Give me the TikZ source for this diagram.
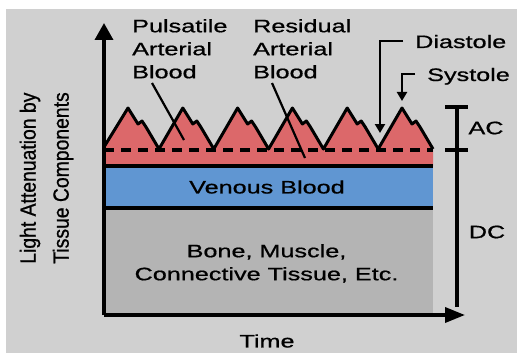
\documentclass[tikz,border=0pt]{standalone}
\usepackage{fontspec}
\setmainfont{Liberation Sans}
\newfontfamily\widesf[FakeStretch=1.4, FakeBold=0.8]{Liberation Sans}
\newfontfamily\narrowsf[FakeStretch=0.88, FakeBold=0.8]{Liberation Sans}
\usepackage{xcolor}
\usepackage{tikz}
\usetikzlibrary{arrows.meta, positioning, calc}

\definecolor{bgGray}{RGB}{208,208,208}
\definecolor{boneGray}{RGB}{180,180,180}
\definecolor{venBlue}{RGB}{96,150,210}
\definecolor{artRed}{RGB}{220,104,106}

\begin{document}
\begin{tikzpicture}[
    x=1pt, y=-1pt,
    lbl/.style={
        inner sep=0pt,
        align=left,
        font=\widesf\fontsize{18}{23}\selectfont
    },
    ylbl/.style={
        inner sep=0pt,
        align=left,
        font=\narrowsf\fontsize{22}{33}\selectfont
    },
    axis/.style={line width=3.5pt},
    sepline/.style={line width=3.2pt},
    wave/.style={line width=3pt, line join=round},
    pointer/.style={-{Triangle[length=9pt, width=10pt]}, line width=2.5pt},
    leader/.style={line width=2.2pt}
]

% frame
\useasboundingbox (0,0) rectangle (517,353);
\fill[white] (0,0) rectangle (517,353);
\fill[bgGray] (6,9) rectangle (517,353);

% tissue layers
\fill[boneGray] (104,208) rectangle (433,315);
\fill[venBlue] (104,166) rectangle (433,208);
\fill[artRed] (104,166) -- (104,147)
    -- (128,108) -- (138,124) -- (142,121) -- (146,127) -- (159,149)
    -- (182.8,108) -- (192.8,124) -- (196.8,121) -- (200.8,127) -- (213.8,149)
    -- (237.6,108) -- (247.6,124) -- (251.6,121) -- (255.6,127) -- (268.6,149)
    -- (292.4,108) -- (302.4,124) -- (306.4,121) -- (310.4,127) -- (323.4,149)
    -- (347.2,108) -- (357.2,124) -- (361.2,121) -- (365.2,127) -- (378.2,149)
    -- (402,108) -- (412,124) -- (416,121) -- (420,127) -- (433,149)
    -- (433,166) -- cycle;
\draw[wave] (104,147)
    -- (128,108) -- (138,124) -- (142,121) -- (146,127) -- (159,149)
    -- (182.8,108) -- (192.8,124) -- (196.8,121) -- (200.8,127) -- (213.8,149)
    -- (237.6,108) -- (247.6,124) -- (251.6,121) -- (255.6,127) -- (268.6,149)
    -- (292.4,108) -- (302.4,124) -- (306.4,121) -- (310.4,127) -- (323.4,149)
    -- (347.2,108) -- (357.2,124) -- (361.2,121) -- (365.2,127) -- (378.2,149)
    -- (402,108) -- (412,124) -- (416,121) -- (420,127) -- (433,149);
\draw[line width=3.4pt, dash pattern=on 10pt off 7pt] (104,150) -- (433,150);
\draw[sepline] (104,166) -- (433,166);
\draw[sepline] (104,208) -- (433,208);

% axes
\coordinate (origin) at (104,315);
\coordinate (yTip) at (104,23);
\coordinate (xTip) at (465,315);
\draw[axis, -{Triangle[length=17pt, width=18pt]}] (origin) -- (yTip);
\draw[axis, -{Triangle[length=20pt, width=15pt]}] (origin) -- (xTip);

% AC / DC scale
\coordinate (acTop) at (457,107);
\coordinate (acMid) at (457,150);
\coordinate (dcBot) at (457,307);
\draw[sepline] (acTop) -- (dcBot);
\draw[sepline] ([xshift=-12pt]acTop) -- ([xshift=11pt]acTop);
\draw[sepline] ([xshift=-12pt]acMid) -- ([xshift=11pt]acMid);

% labels
\node[lbl, anchor=north west] (pulsatile) at (132,19) {Pulsatile\\Arterial\\Blood};
\node[lbl, anchor=north west] (residual) at (253,19) {Residual\\Arterial\\Blood};
\node[lbl, anchor=base west] (diastole) at (415,48) {Diastole};
\node[lbl, anchor=base west] (systole) at (427,81) {Systole};
\node[lbl] (ac) at (486,128) {AC};
\node[lbl] (dc) at (487,232) {DC};
\node[lbl] (venous) at (267,187) {Venous Blood};
\node[lbl, align=center, anchor=north] (bone) at (266.5,244) {Bone, Muscle,\\Connective Tissue, Etc.};
\node[lbl] (time) at (267,341) {Time};
\node[ylbl, rotate=90] (attenuation) at (46.5,178) {Light Attenuation by\\Tissue Components};

% pointers
\coordinate (pulsTail) at (152,83);
\coordinate (pulsEnd) at (184,140);
\coordinate (resTail) at (272,83);
\coordinate (resEnd) at (305,158);
\coordinate (diaStart) at (403,41);
\coordinate (diaTip) at (380,133);
\coordinate (sysStart) at (415,74);
\coordinate (sysTip) at (402,101);

\draw[leader] (pulsTail) -- (pulsEnd);
\draw[leader] (resTail) -- (resEnd);
\draw[pointer] (diaStart) -| (diaTip);
\draw[pointer] (sysStart) -| (sysTip);

\end{tikzpicture}
\end{document}
